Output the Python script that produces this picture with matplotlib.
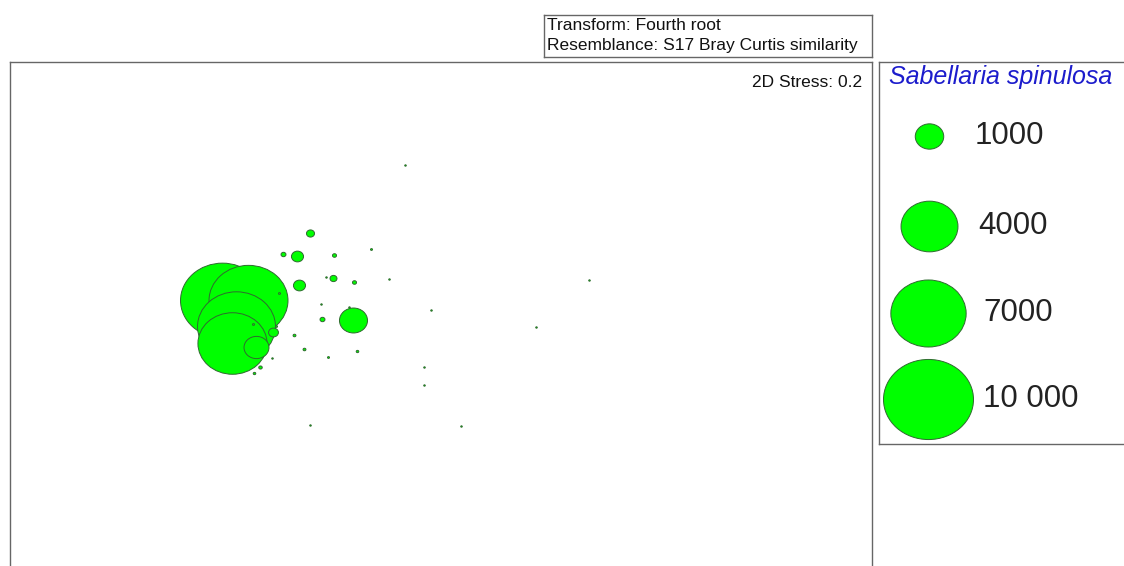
import numpy as np
import matplotlib
matplotlib.use("Agg")
import matplotlib.pyplot as plt
from matplotlib.path import Path

plt.rcParams['font.family'] = ['Liberation Sans', 'DejaVu Sans']

# ---- data: MDS coordinates and Sabellaria spinulosa abundance ----
mds_x = [-2.19, -1.93, -2.05, -2.09, -1.85, -0.88, -1.31, -1.58, -1.44, -1.07,
         -0.70, -1.42, -1.08, -0.87, -1.15, -1.62, -1.20, -1.19, -0.92, -1.88,
         -1.65, -1.68, -1.47, -1.37, -1.13, -0.84, -1.69, -1.81, -1.87, -0.36,
         -0.52, 1.48, -0.10, 0.95, -0.17, -0.17, -1.31, 0.20]
mds_y = [0.28, 0.28, 0.02, -0.15, -0.19, 0.08, 0.95, 0.74, 0.72, 0.73,
         0.79, 0.43, 0.50, 0.46, 0.51, 0.35, 0.24, 0.09, 0.21, 0.04,
         0.02, -0.04, -0.07, -0.21, -0.29, -0.23, -0.30, -0.39, -0.45, 1.63,
         0.49, 0.48, 0.18, 0.01, -0.39, -0.57, -0.97, -0.98]
abundance = [8700, 7700, 7500, 5900, 770, 970, 80, 30, 180, 20,
             5, 180, 60, 20, 3, 5, 3, 30, 3, 5,
             5, 120, 10, 10, 5, 8, 3, 15, 8, 3,
             3, 3, 3, 3, 3, 3, 3, 3]

legend_values = [1000, 4000, 7000, 10000]
legend_labels = ['1000', '4000', '7000', '10 000']

species = 'Sabellaria spinulosa'
transform_text = 'Transform: Fourth root'
resemblance_text = 'Resemblance: S17 Bray Curtis similarity'
stress_text = '2D Stress: 0.2'

# ---- styling ----
FILL = '#00ff00'
EDGE = '#2f6a2f'
W, H = 1124, 566
DPI = 100
SIZE_SCALE = 0.42   # points^2 per abundance unit

# elliptical marker (slightly wider than tall, as in the original)
circ = Path.unit_circle()
ell_marker = Path(circ.vertices * np.array([1.0, 0.89]), circ.codes)

fig = plt.figure(figsize=(W / DPI, H / DPI), dpi=DPI)

def fig_rect(x0, y0, x1, y1):
    return [x0 / W, 1 - y1 / H, (x1 - x0) / W, (y1 - y0) / H]

# main ordination panel
ax = fig.add_axes(fig_rect(10, 62, 872, 594))
ax.set_xlim(-4.31, 4.31)
ax.set_ylim(-2.66, 2.66)
ax.set_xticks([])
ax.set_yticks([])
for sp in ax.spines.values():
    sp.set_color('#666666')
    sp.set_linewidth(1.0)

sizes = [SIZE_SCALE * v for v in abundance]
for xi, yi, si in zip(mds_x, mds_y, sizes):
    ax.scatter([xi], [yi], s=si, marker=ell_marker, facecolor=FILL,
               edgecolor=EDGE, linewidth=0.7, zorder=3)

ax.text(0.988, 0.976, stress_text, transform=ax.transAxes, ha='right', va='top',
        fontsize=12.5, color='#111111')

# annotation box on top
tax = fig.add_axes(fig_rect(544, 15, 872, 57))
tax.set_xticks([]); tax.set_yticks([])
for sp in tax.spines.values():
    sp.set_color('#666666'); sp.set_linewidth(1.0)
tax.text(0.008, 0.74, transform_text, transform=tax.transAxes, ha='left',
         va='center', fontsize=12.5, color='#111111')
tax.text(0.008, 0.28, resemblance_text, transform=tax.transAxes, ha='left',
         va='center', fontsize=12.5, color='#111111')

# bubble legend panel
lax = fig.add_axes(fig_rect(879, 62, 1130, 444))
lax.set_xlim(879, 1130)
lax.set_ylim(444, 62)
lax.set_xticks([]); lax.set_yticks([])
for sp in lax.spines.values():
    sp.set_color('#666666'); sp.set_linewidth(1.0)
lax.text(889, 77, species, ha='left', va='center', fontsize=18,
         style='italic', color='#1c1ccc')
leg_y = [136, 226, 313, 399]
leg_x = [929, 929, 928, 928]
lab_x = [975, 978, 983, 983]
for v, lab, yy, xx, lx in zip(legend_values, legend_labels, leg_y, leg_x, lab_x):
    lax.scatter([xx], [yy], s=SIZE_SCALE * v, marker=ell_marker, facecolor=FILL,
                edgecolor=EDGE, linewidth=0.7, clip_on=False)
    lax.text(lx, yy, lab, ha='left', va='center', fontsize=22.5, color='#222222')

fig.savefig('out.png', dpi=DPI)
